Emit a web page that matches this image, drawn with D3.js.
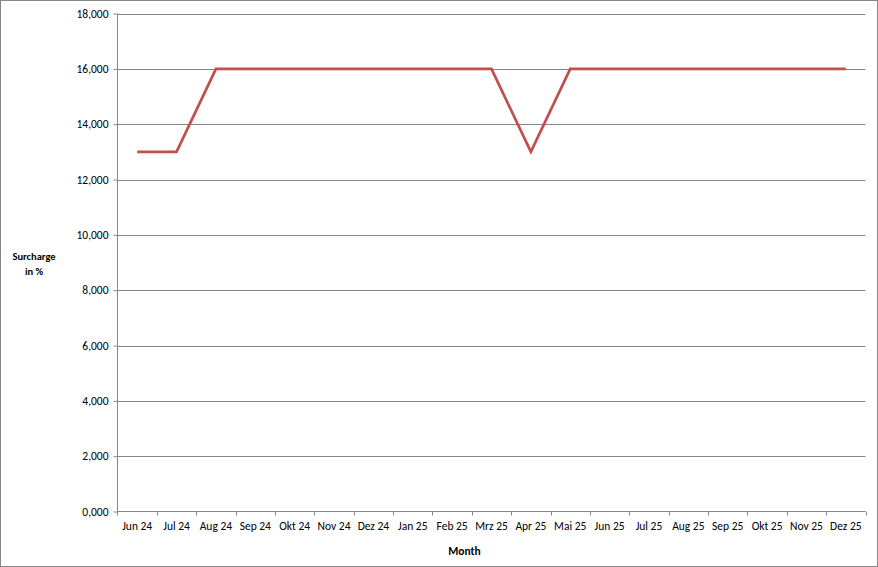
<!DOCTYPE html>
<html><head><meta charset="utf-8">
<script src="https://cdn.jsdelivr.net/npm/d3@7"></script>
<style>body{margin:0;background:#fff}svg{display:block}</style>
</head><body>
<svg id="c" width="878" height="567"></svg>
<script>
const months = ["Jun 24","Jul 24","Aug 24","Sep 24","Okt 24","Nov 24","Dez 24","Jan 25","Feb 25","Mrz 25","Apr 25","Mai 25","Jun 25","Jul 25","Aug 25","Sep 25","Okt 25","Nov 25","Dez 25"];
const surcharge = [13,13,16,16,16,16,16,16,16,16,13,16,16,16,16,16,16,16,16];
const yTicks = [0,2,4,6,8,10,12,14,16,18];

(function(){
const svg = d3.select("#c");
const font = "Calibri, Carlito, 'Liberation Sans', Arial, sans-serif";
const pL = 117.5, pR = 865.5, pT = 13.5, pB = 511.5;

svg.append("rect").attr("x",0.5).attr("y",0.5).attr("width",877).attr("height",566)
  .attr("fill","#fff").attr("stroke","#868686");

const x = d3.scaleBand().domain(months).range([pL, pR]);
const y = d3.scaleLinear().domain([0,18]).range([pB, pT]);
const fmt = v => d3.format(".3f")(v).replace(".", ",");

svg.append("g").selectAll("line").data(yTicks.filter(d=>d>0)).join("line")
  .attr("x1", pL).attr("x2", pR)
  .attr("y1", d=>Math.round(y(d))+0.5).attr("y2", d=>Math.round(y(d))+0.5)
  .attr("stroke","#868686").attr("stroke-width",1);

const ya = svg.append("g").attr("transform",`translate(${pL},0)`)
  .call(d3.axisLeft(y).tickValues(yTicks).tickFormat(fmt).tickSize(4).tickPadding(5));
ya.selectAll("path,line").attr("stroke","#868686");
ya.select(".domain").attr("d",`M0,${pT}V${pB}`);
ya.selectAll("text").attr("font-family",font).attr("font-size",11.5).attr("fill","#000");

const xa = svg.append("g").attr("transform",`translate(0,${pB})`);
xa.append("line").attr("x1",pL).attr("x2",pR).attr("stroke","#868686");
const bounds = months.map(m=>x(m)).concat([pR]);
xa.selectAll("line.t").data(bounds).join("line").attr("class","t")
  .attr("x1",d=>Math.round(d)+0.5).attr("x2",d=>Math.round(d)+0.5).attr("y1",0).attr("y2",4)
  .attr("stroke","#868686");
xa.selectAll("text").data(months).join("text")
  .attr("x",d=>x(d)+x.bandwidth()/2).attr("y",18)
  .attr("text-anchor","middle").attr("font-family",font).attr("font-size",11.5).attr("fill","#000")
  .text(d=>d);

const line = d3.line().x((d,i)=>x(months[i])+x.bandwidth()/2).y(d=>y(d));
svg.append("path").datum(surcharge).attr("d",line)
  .attr("fill","none").attr("stroke","#C0504D").attr("stroke-width",2.75).attr("stroke-linejoin","miter");

svg.append("text").attr("x",34).attr("y",260).attr("text-anchor","middle")
  .attr("font-family",font).attr("font-size",10.5).attr("font-weight","bold").text("Surcharge");
svg.append("text").attr("x",34).attr("y",275).attr("text-anchor","middle")
  .attr("font-family",font).attr("font-size",10.5).attr("font-weight","bold").text("in %");
svg.append("text").attr("x",464.5).attr("y",555).attr("text-anchor","middle")
  .attr("font-family",font).attr("font-size",11.5).attr("font-weight","bold").text("Month");
})();
</script>
</body></html>
